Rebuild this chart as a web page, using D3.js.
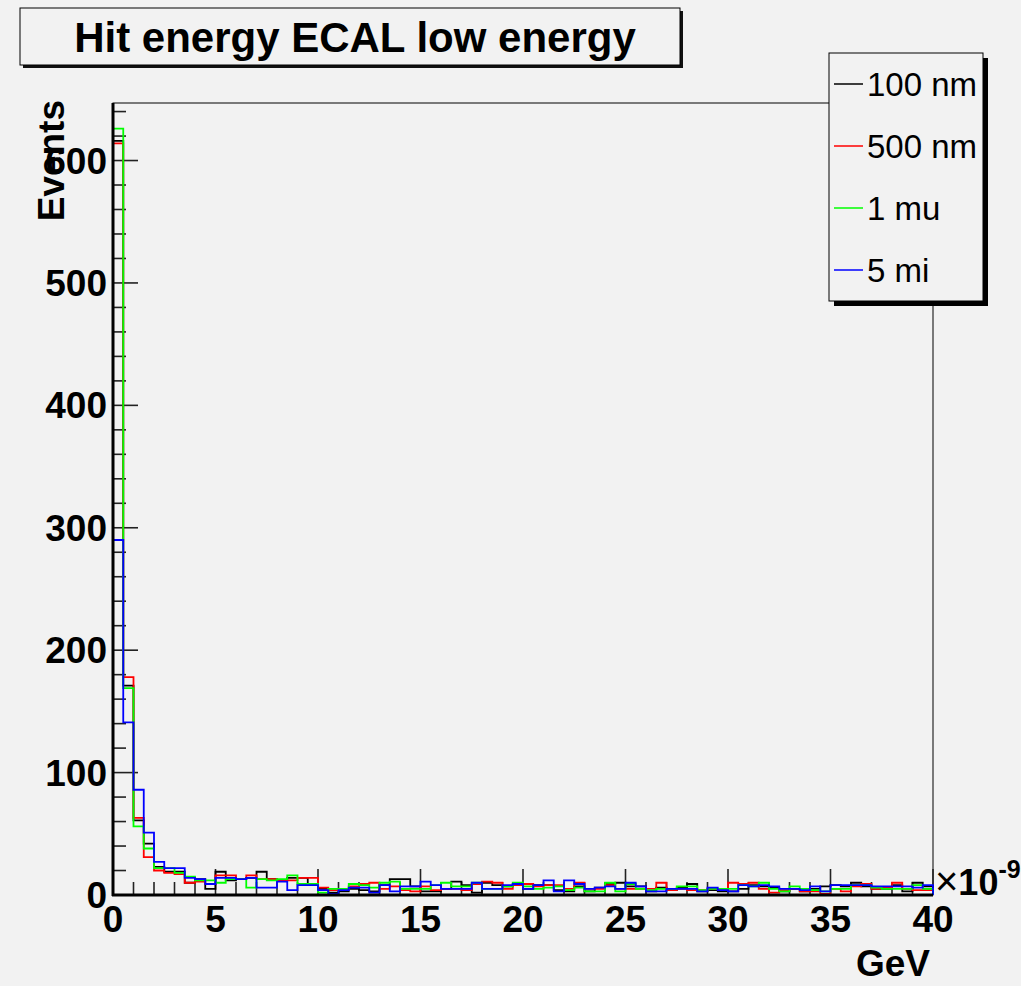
<!DOCTYPE html>
<html>
<head>
<meta charset="utf-8">
<title>Hit energy ECAL low energy</title>
<style>
body { margin: 0; background: #f2f2f2; }
svg { display: block; font-family: "Liberation Sans", Arial, Helvetica, sans-serif; }
</style>
</head>
<body>
<svg width="1021" height="986"></svg>
<script src="https://d3js.org/d3.v7.min.js"></script>
<script>

// bin counts, 80 bins of 0.5 (x 1e-9 GeV) from 0 to 40
var nm100 = [616,171,61,42,23,19,19,10,13,5,19,12,13,14,19,13,12,14,14,8,
             5,2,3,5,4,3,8,13,13,7,3,3,5,11,8,2,10,8,7,9,
             5,8,8,4,3,7,3,6,9,10,7,7,3,6,4,6,9,3,4,3,
             3,5,8,7,6,3,5,3,5,7,8,7,10,7,5,5,8,3,10,7];
var nm500 = [614,178,63,31,20,18,17,10,11,9,16,16,13,16,13,13,12,12,14,14,
             6,4,5,7,9,10,5,7,4,3,7,4,5,5,4,9,11,10,5,8,
             9,7,8,8,5,10,5,5,8,5,5,5,5,10,4,5,4,4,5,5,
             10,9,10,5,2,4,5,3,3,1,5,3,7,9,5,6,10,5,4,4];
var mu1 = [626,169,56,38,22,22,18,15,12,12,10,13,13,6,13,12,13,16,9,9,
           2,5,5,9,8,6,10,11,5,5,5,8,10,7,7,10,5,5,7,10,
           7,5,6,7,4,6,3,3,10,3,9,5,4,5,5,7,7,4,5,5,
           5,8,7,10,5,3,7,5,4,3,5,5,8,8,6,5,5,5,8,5];
var mi5 = [290,141,86,51,27,22,22,14,13,9,14,14,13,14,6,6,11,4,8,8,
           4,1,4,6,6,2,8,3,7,7,11,8,5,5,5,10,5,5,8,9,
           5,8,12,3,12,9,5,6,7,5,10,7,3,3,5,5,5,3,6,4,
           3,8,7,8,7,5,5,4,7,3,8,8,8,8,7,7,7,7,6,8];

var seriesNames = ["100 nm", "500 nm", "1 mu", "5 mi"];
var seriesColors = ["#000000", "#ff0000", "#00ff00", "#0000ff"];
var seriesData = [nm100, nm500, mu1, mi5];

var binWidth = 0.5;
var xMajor = [0, 5, 10, 15, 20, 25, 30, 35, 40];
var yMajor = [0, 100, 200, 300, 400, 500, 600];

var svg = d3.select("svg");
var padL = 113, padR = 933, padT = 103, padB = 895;

var x = d3.scaleLinear().domain([0, 40]).range([padL, padR]);
var y = d3.scaleLinear().domain([0, 647]).range([padB, padT]);

// frame
svg.append("rect")
    .attr("x", padL).attr("y", padT)
    .attr("width", padR - padL).attr("height", padB - padT)
    .attr("fill", "#f2f2f2").attr("stroke", "#000").attr("stroke-width", 1);

// ticks
var tickG = svg.append("g").attr("stroke", "#222").attr("stroke-width", 1.6);
d3.range(0, 641, 20).forEach(function(v) {
  var len = (v % 100 === 0) ? 25 : 13;
  tickG.append("line")
      .attr("x1", padL).attr("x2", padL + len)
      .attr("y1", y(v)).attr("y2", y(v));
});
d3.range(0, 41, 1).forEach(function(v) {
  var len = (v % 5 === 0) ? 26 : 13;
  tickG.append("line")
      .attr("x1", x(v)).attr("x2", x(v))
      .attr("y1", padB).attr("y2", padB - len);
});

// histograms
var line = d3.line()
    .x(function(d) { return x(d[0]); })
    .y(function(d) { return y(d[1]); })
    .curve(d3.curveStepAfter);

seriesData.forEach(function(vals, k) {
  var pts = [[0, 0]];
  vals.forEach(function(v, i) { pts.push([i * binWidth, v]); });
  pts.push([40, vals[vals.length - 1]]);
  pts.push([40, 0]);
  svg.append("path")
      .datum(pts)
      .attr("d", line)
      .attr("fill", "none")
      .attr("stroke", seriesColors[k])
      .attr("stroke-width", 1.8);
});

// axis lines
svg.append("line").attr("x1", padL).attr("x2", padL).attr("y1", padT).attr("y2", padB + 1)
    .attr("stroke", "#000").attr("stroke-width", 3);
svg.append("line").attr("x1", padL - 1).attr("x2", padR).attr("y1", padB).attr("y2", padB)
    .attr("stroke", "#000").attr("stroke-width", 3);

// tick labels
svg.append("g").selectAll("text")
  .data(yMajor)
  .enter().append("text")
    .attr("x", 107)
    .attr("y", function(d) { return y(d) + 13; })
    .attr("text-anchor", "end")
    .attr("font-weight", "bold")
    .attr("font-size", 37)
    .text(function(d) { return d; });

svg.append("g").selectAll("text")
  .data(xMajor)
  .enter().append("text")
    .attr("x", function(d) { return x(d); })
    .attr("y", 932)
    .attr("text-anchor", "middle")
    .attr("font-weight", "bold")
    .attr("font-size", 37)
    .text(function(d) { return d; });

// exponent
var ex = svg.append("text").attr("x", 935).attr("y", 895);
ex.append("tspan").attr("font-size", 40).text("\u00d7");
ex.append("tspan").attr("font-size", 36).attr("font-weight", "bold").text("10");
ex.append("tspan").attr("font-size", 25).attr("font-weight", "bold").attr("dy", -17).text("-9");

// axis titles
svg.append("text")
    .attr("x", 930).attr("y", 976)
    .attr("text-anchor", "end")
    .attr("font-weight", "bold").attr("font-size", 37)
    .text("GeV");
svg.append("text")
    .attr("transform", "translate(64,100) rotate(-90)")
    .attr("text-anchor", "end")
    .attr("font-weight", "bold").attr("font-size", 37)
    .text("Events");

// title box
svg.append("rect").attr("x", 23).attr("y", 11).attr("width", 660).attr("height", 57).attr("fill", "#111");
svg.append("rect").attr("x", 20).attr("y", 8).attr("width", 660).attr("height", 57)
    .attr("fill", "#f2f2f2").attr("stroke", "#000").attr("stroke-width", 1);
svg.append("text")
    .attr("x", 355).attr("y", 52)
    .attr("text-anchor", "middle")
    .attr("font-weight", "bold").attr("font-size", 42)
    .text("Hit energy ECAL low energy");

// legend
var lg = svg.append("g");
lg.append("rect").attr("x", 834).attr("y", 58).attr("width", 154).attr("height", 248).attr("fill", "#000");
lg.append("rect").attr("x", 829).attr("y", 53).attr("width", 154).attr("height", 248)
    .attr("fill", "#f2f2f2").attr("stroke", "#000").attr("stroke-width", 1);
seriesNames.forEach(function(name, k) {
  var yy = 84 + k * 62;
  lg.append("line").attr("x1", 834).attr("x2", 863).attr("y1", yy).attr("y2", yy)
      .attr("stroke", seriesColors[k]).attr("stroke-width", 1.5);
  lg.append("text").attr("x", 867).attr("y", yy + 12)
      .attr("font-size", 33).text(name);
});

</script>
</body>
</html>
